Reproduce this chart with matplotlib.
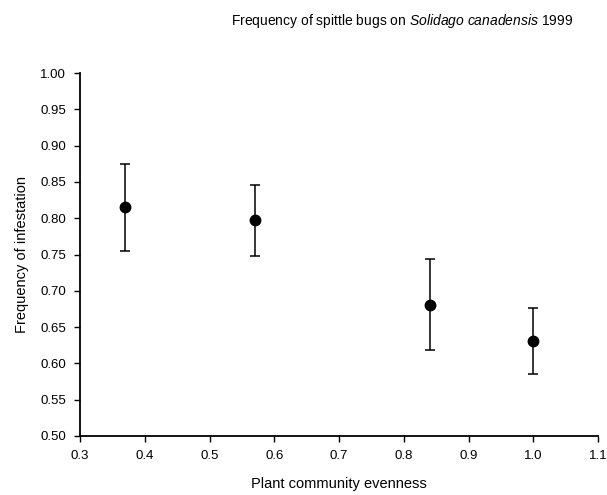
import numpy as np
import matplotlib.pyplot as plt

plt.rcParams['font.family'] = ['Liberation Sans', 'DejaVu Sans']
plt.rcParams['mathtext.fontset'] = 'custom'
plt.rcParams['mathtext.rm'] = 'Liberation Sans'
plt.rcParams['mathtext.it'] = 'Liberation Sans:italic'

evenness = [0.37, 0.57, 0.84, 1.00]
infestation = [0.815, 0.797, 0.681, 0.631]
err_low = [0.060, 0.049, 0.062, 0.045]
err_high = [0.060, 0.049, 0.063, 0.045]

xticks = [0.3, 0.4, 0.5, 0.6, 0.7, 0.8, 0.9, 1.0, 1.1]
yticks = [0.50, 0.55, 0.60, 0.65, 0.70, 0.75, 0.80, 0.85, 0.90, 0.95, 1.00]

fig = plt.figure(figsize=(6.07, 4.95), dpi=100)
ax = fig.add_axes([80/607, 1-436/495, (598-80)/607, (436-73)/495])

ax.errorbar(evenness, infestation, yerr=[err_low, err_high], fmt='o',
            color='black', ms=7.5, elinewidth=1.1, capsize=3.3, capthick=1.1)

ax.set_xlim(0.3, 1.1)
ax.set_ylim(0.5, 1.0)
ax.set_xticks(xticks)
ax.set_xticklabels(['%.1f' % t for t in xticks])
ax.set_yticks(yticks)
ax.set_yticklabels(['%.2f' % t for t in yticks])
ax.spines['top'].set_visible(False)
ax.spines['right'].set_visible(False)
for s in ['left', 'bottom']:
    ax.spines[s].set_linewidth(1.3)
ax.tick_params(direction='out', length=4, width=1, labelsize=9.5, pad=6)

ax.set_xlabel('Plant community evenness', fontsize=10.5, labelpad=11)
ax.set_ylabel('Frequency of infestation', fontsize=10.5, labelpad=8)

fig.text(402/607, 1-21/495,
         r'Frequency of spittle bugs on $\it{Solidago\ canadensis}$ 1999',
         ha='center', va='center', fontsize=10)

fig.savefig('out.png', dpi=100)
